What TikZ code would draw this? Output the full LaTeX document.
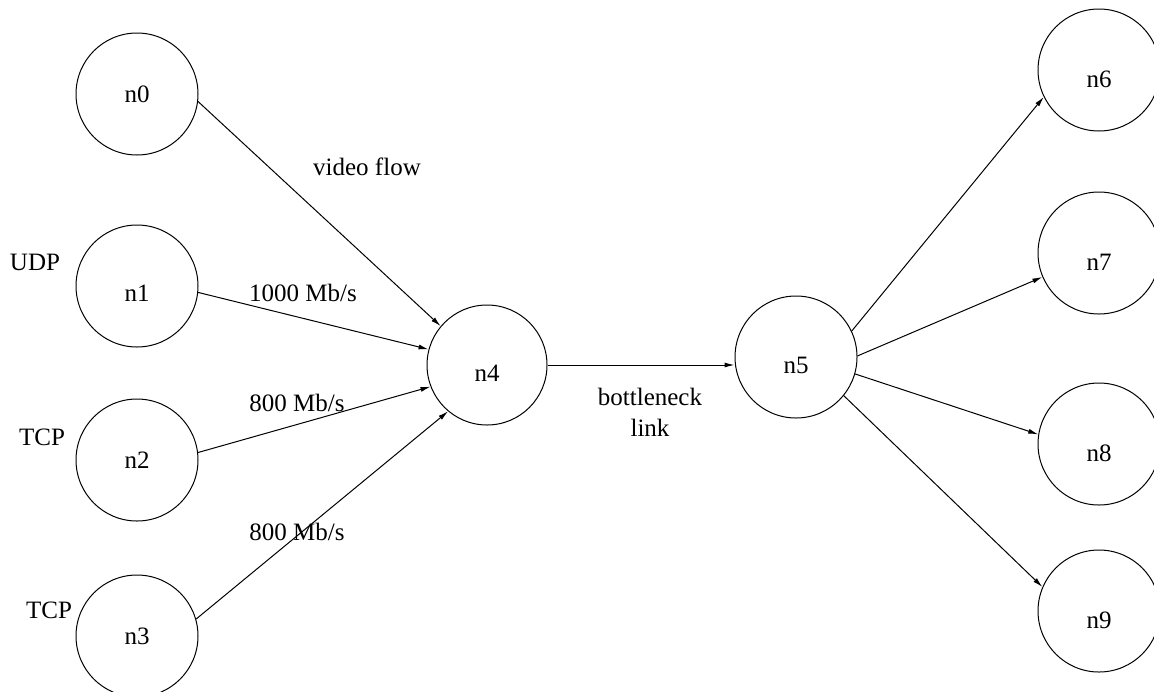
\documentclass[tikz,border=0pt]{standalone}
\usepackage{fontspec}
\setmainfont{Liberation Serif}
\usetikzlibrary{arrows.meta}
\begin{document}
\begin{tikzpicture}[x=0.5pt,y=-0.5pt,
  nd/.style={circle,draw,line width=0.5pt,minimum size=61pt,inner sep=0pt,font=\fontsize{12.5}{15}\selectfont},
  tdown/.style={text height=#1,text depth=0pt},
  lbl/.style={font=\fontsize{12.5}{15.5}\selectfont,inner sep=0pt,align=center},
  link/.style={line width=0.5pt,-{Latex[length=5pt,width=2.5pt]}}]
\useasboundingbox (0,0) rectangle (1154,691);
\clip (0,0) rectangle (1154,691);
\fill[white] (0,0) rectangle (1154,691);
% nodes
\node[nd] (n0) at (137,94) {n0};
\node[nd,tdown=15.2pt] (n1) at (137,286) {n1};
\node[nd] (n2) at (137,460) {n2};
\node[nd] (n3) at (137,636) {n3};
\node[nd,minimum size=60pt,tdown=16.2pt] (n4) at (487,365) {n4};
\node[nd,tdown=16.2pt] (n5) at (796,357) {n5};
\node[nd,tdown=17.2pt] (n6) at (1099,70) {n6};
\node[nd,tdown=17.2pt] (n7) at (1099,253) {n7};
\node[nd,tdown=17.2pt] (n8) at (1099,444) {n8};
\node[nd,tdown=17.2pt] (n9) at (1099,611) {n9};
% labels
\node[lbl] (udp) at (35,262) {UDP};
\node[lbl] (tcp2) at (42,437) {TCP};
\node[lbl] (tcp3) at (49,610) {TCP};
\node[lbl] (vf) at (367,167) {video flow};
\node[lbl] (r1) at (303,293) {1000 Mb/s};
\node[lbl] (r2) at (297,403) {800 Mb/s};
\node[lbl] (r3) at (297,532) {800 Mb/s};
\node[lbl] (bl) at (650,412) {bottleneck\\link};
% links
\draw[link] (n0.-7) -- (n4.140);
\draw[link] (n1.-6) -- (n4.165);
\draw[link] (n2.7) -- (n4.-159);
\draw[link] (n3.16) -- (n4.230);
\draw[link] (n4.east) -- (n4.east -| n5.west);
\draw[link] (n5.25) -- (n6.206);
\draw[link] (n5.1) -- (n7.-157);
\draw[link] (n5.-16) -- (n8.171);
\draw[link] (n5.-39) -- (n9.157);
\end{tikzpicture}
\end{document}
